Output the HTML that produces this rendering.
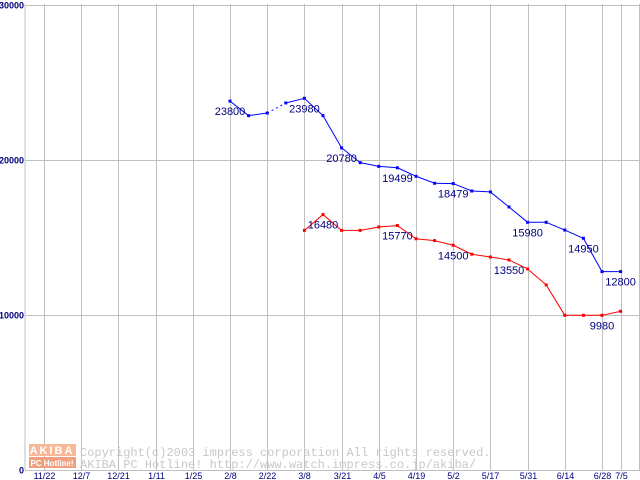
<!DOCTYPE html>
<html><head><meta charset="utf-8"><style>
body{margin:0;background:#fff;}
svg{display:block;font-family:"Liberation Sans",sans-serif;}
</style></head><body>
<svg id="chart" width="640" height="480" xmlns="http://www.w3.org/2000/svg">
<g id="grid"></g>
<g id="wm">
  <rect x="29" y="444" width="47" height="12" fill="#f8b898"/>
  <text x="52" y="454" font-size="11" font-weight="bold" fill="#fff" text-anchor="middle" letter-spacing="2">AKIBA</text>
  <rect x="29" y="457" width="47" height="11" fill="#f0a080"/>
  <text x="52" y="466" font-size="8" font-weight="bold" fill="#fff" text-anchor="middle">PC Hotline!</text>
  <text x="80" y="456" font-size="12" fill="#c8c8c8" font-family="Liberation Mono, monospace">Copyright(c)2003 impress corporation All rights reserved.</text>
  <text x="80" y="468" font-size="12" fill="#c8c8c8" font-family="Liberation Mono, monospace">AKIBA PC Hotline!  http://www.watch.impress.co.jp/akiba/</text>
</g>
<g id="series"></g>
<g id="axes"></g>
</svg>
<script>
const xLabels = ["11/22","12/7","12/21","1/11","1/25","2/8","2/22","3/8","3/21","4/5","4/19","5/2","5/17","5/31","6/14","6/28","7/5"];
const xLabelIdx = [0,2,4,6,8,10,12,14,16,18,20,22,24,26,28,30,31];
const yTicks = [0,10000,20000,30000];
const blueStart = 10;
const blueValues = [23800,22860,23030,23680,23980,22860,20780,19830,19590,19499,18950,18500,18479,18000,17940,16970,15980,15980,15480,14950,12800,12800];
const blueLabelIdx = [10,14,16,19,22,26,29,31];
const redStart = 14;
const redValues = [15460,16480,15460,15460,15680,15770,14920,14800,14500,13920,13740,13550,12970,11940,9980,9980,9980,10240];
const redLabelIdx = [15,19,22,25,30];

const NS="http://www.w3.org/2000/svg";
const X0=44, STEP=18.6, Y0=470, YK=155/10000;
function xs(i){return X0+i*STEP;}
function ys(v){return Y0-v*YK;}
function mk(tag,attrs,parent){const e=document.createElementNS(NS,tag);for(const k in attrs)e.setAttribute(k,attrs[k]);parent.appendChild(e);return e;}
const grid=document.getElementById('grid'), axes=document.getElementById('axes'), ser=document.getElementById('series');

let vl=mk('line',{x1:25,x2:25,y1:4,y2:470,stroke:'#c0c0c0'},grid);


xLabelIdx.forEach((ix,k)=>{
  const x=Math.round(xs(ix))+0.5;
  const l=mk('line',{x1:x,x2:x,y1:4,y2:470,stroke:'#c0c0c0'},grid);
  
  
  const t=mk('text',{x:x,y:479,'font-size':9,fill:'#000080','text-anchor':'middle'},axes);
  t.textContent=xLabels[k];
  
  
});
let rl=mk('line',{x1:639.5,x2:639.5,y1:4,y2:470,stroke:'#c0c0c0'},grid);


yTicks.forEach(v=>{
  const y=Math.round(ys(v))+0.5;
  const l=mk('line',{x1:25,x2:640,y1:y,y2:y,stroke:'#c0c0c0'},grid);
  
  
  const t=mk('text',{x:24,y:y+3,'font-size':9,'font-weight':'bold',fill:'#000080','text-anchor':'end'},axes);
  t.textContent=String(v);
  
  
});

function drawSeries(start,vals,labels,color,name,dashSeg){
  const g=mk('g',{},ser);
  
  
  for(let i=0;i<vals.length-1;i++){
    const l=mk('line',{x1:xs(start+i),y1:ys(vals[i]),x2:xs(start+i+1),y2:ys(vals[i+1]),stroke:color,'stroke-width':1},g);
    if(dashSeg===i) l.setAttribute('stroke-dasharray','2,3');
    
    
  }
  vals.forEach((v,i)=>{
    const r=mk('rect',{x:xs(start+i)-1.5,y:ys(v)-1.5,width:3,height:3,fill:color},g);
    
    
  });
  labels.forEach(ix=>{
    const v=vals[ix-start];
    const t=mk('text',{x:xs(ix),y:ys(v)+14,'font-size':11,fill:'#000080','text-anchor':'middle'},g);
    t.textContent=String(v);
    
    
  });
}
drawSeries(blueStart,blueValues,blueLabelIdx,'#0000ff','blue-series',2);
drawSeries(redStart,redValues,redLabelIdx,'#ff0000','red-series',-1);
</script>
</body></html>
